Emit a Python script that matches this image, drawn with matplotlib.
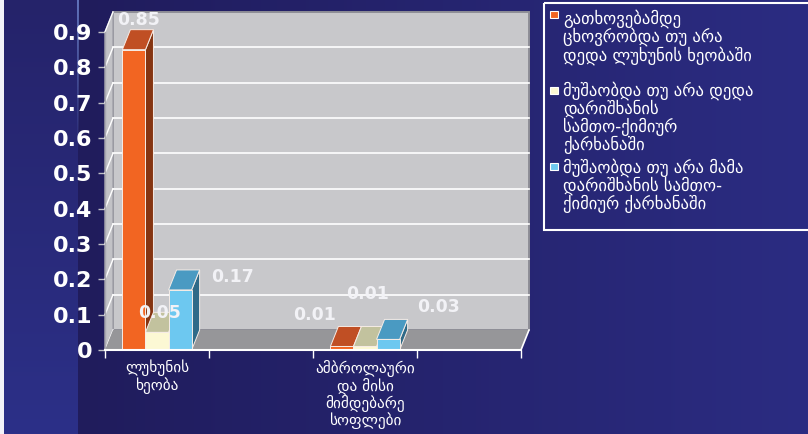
import numpy as np
import matplotlib.pyplot as plt
from matplotlib.patches import Polygon, Rectangle
from matplotlib.colors import to_rgb

# data
categories = ["ლუხუნის\nხეობა", "ამბროლაური\nდა მისი\nმიმდებარე\nსოფლები"]
series_names = [
    "გათხოვებამდე\nცხოვრობდა თუ არა\nდედა ლუხუნის ხეობაში",
    "მუშაობდა თუ არა დედა\nდარიშხანის\nსამთო-ქიმიურ\nქარხანაში",
    "მუშაობდა თუ არა მამა\nდარიშხანის სამთო-\nქიმიურ ქარხანაში",
]
values = [
    [0.85, 0.01],
    [0.05, 0.01],
    [0.17, 0.03],
]
yticks = [0, 0.1, 0.2, 0.3, 0.4, 0.5, 0.6, 0.7, 0.8, 0.9]
ytick_labels = ["0", "0.1", "0.2", "0.3", "0.4", "0.5", "0.6", "0.7", "0.8", "0.9"]

# front / top / side shades for each series
face_cols = ["#f26522", "#fcf8d4", "#6dc8f0"]
top_cols = ["#c04f24", "#c2c29e", "#4a9ac2"]
side_cols = ["#853512", "#9a9a7a", "#2f6a88"]

# where each value label sits relative to its bar top (pixels)
label_offsets = [
    [(5, 30), (-27, 31)],
    [(3, 19), (3, 52)],
    [(52, 13), (50, 32)],
]

W, H = 808, 434
fig = plt.figure(figsize=(W / 100, H / 100), dpi=100)

# background: dark navy with a lighter strip on the left
bg = np.zeros((H, W, 3))
yy = np.linspace(0, 1, H)[:, None]
lt, lb = np.array(to_rgb("#25236a")), np.array(to_rgb("#2c3088"))
bg[:, :78] = (lt + (lb - lt) * yy)[:, None, :]
xx = np.linspace(0, 1, W - 78)[None, :, None]
cm, cr = np.array(to_rgb("#201c5c")), np.array(to_rgb("#2b2c82"))
bg[:, 78:] = cm + (cr - cm) * xx
glow = np.clip(1 - np.arange(H) / 150.0, 0, 1)[:, None, None]
bg[:, 77:79] = bg[:, 77:79] * (1 - glow * 0.7) + np.array(to_rgb("#7a96e0")) * glow * 0.7
bg[:, :4] = to_rgb("#f2f2f8")
bax = fig.add_axes([0, 0, 1, 1], zorder=-10)
bax.imshow(bg, aspect="auto", interpolation="bilinear")
bax.axis("off")

ax = fig.add_axes([105 / W, 84 / H, 416 / W, 318 / H])
ax.set_xlim(0, 4)
ax.set_ylim(0, 0.9)
ax.patch.set_visible(False)
for s in ax.spines.values():
    s.set_visible(False)

dx = 8 / 104
dy = 20 / (318 / 0.9)
top = yticks[-1]

# walls and floor
ax.add_patch(Polygon([(dx, dy), (4 + dx, dy), (4 + dx, top + dy), (dx, top + dy)],
                     fc="#c8c8cb", ec="#8e8e96", lw=1.4, clip_on=False, zorder=1))
for v in yticks[1:-1]:
    ax.plot([dx, 4 + dx], [v + dy, v + dy], color="white", lw=1.2, clip_on=False, zorder=1.5)
ax.add_patch(Polygon([(0, 0), (dx, dy), (dx, top + dy), (0, top)],
                     fc="#c2c2c6", ec="#a0a0a8", lw=1, clip_on=False, zorder=1))
for v in yticks:
    ax.plot([0, dx], [v, v + dy], color="white", lw=1, clip_on=False, zorder=1.6)
ax.add_patch(Polygon([(0, 0), (4, 0), (4 + dx, dy), (dx, dy)],
                     fc="#969699", ec="none", clip_on=False, zorder=2))
ax.plot([4, 4 + dx], [0, dy], color="white", lw=1.2, clip_on=False, zorder=2.5)
ax.plot([0, 0], [0, top], color="#a8a8b0", lw=1, clip_on=False, zorder=2.5)
ax.plot([0, 4], [0, 0], color="white", lw=1.5, clip_on=False, zorder=30)

# 3d bars
bw = 0.222
centers = [0.5 + 2 * g for g in range(len(categories))]
z = 3
edge = "#f6ece6"
for g, c in enumerate(centers):
    for i in range(len(values)):
        v = values[i][g]
        x0 = c + (i - 1.5) * bw
        x1 = x0 + bw
        ax.add_patch(Polygon([(x1, 0), (x1 + dx, dy), (x1 + dx, v + dy), (x1, v)],
                             fc=side_cols[i], ec=edge, lw=0.7, clip_on=False, zorder=z))
        ax.add_patch(Polygon([(x0, v), (x1, v), (x1 + dx, v + dy), (x0 + dx, v + dy)],
                             fc=top_cols[i], ec=edge, lw=0.7, clip_on=False, zorder=z + 0.1))
        ax.bar(x0, v, bw, align="edge", color=face_cols[i], ec=edge, lw=0.7,
               clip_on=False, zorder=z + 0.2)
        z += 1

for g, c in enumerate(centers):
    for i in range(len(values)):
        v = values[i][g]
        xc = c + (i - 1) * bw
        ax.annotate(f"{v:.2f}", xy=(xc, v), xytext=label_offsets[i][g],
                    textcoords="offset pixels", ha="center", va="center",
                    fontsize=12.5, fontweight="bold", color="#f2f2f6",
                    family="DejaVu Sans", zorder=40, annotation_clip=False)

# axes ticks
ax.set_yticks(yticks, ytick_labels)
ax.tick_params(axis="y", length=5, width=1, color="#c0c0c8", pad=4,
               labelcolor="white", labelsize=16)
for t in ax.get_yticklabels():
    t.set_fontweight("bold")
ax.set_xticks(range(5), [""] * 5)
ax.tick_params(axis="x", which="major", length=6, width=1, color="white")
ax.set_xticks(centers, categories, minor=True)
ax.tick_params(axis="x", which="minor", length=0, pad=7, labelsize=11,
               labelcolor="white")
for t in ax.get_xticklabels(minor=True):
    t.set_linespacing(1.05)

# legend
lg = fig.add_axes([0, 0, 1, 1], zorder=50)
lg.set_xlim(0, W)
lg.set_ylim(H, 0)
lg.axis("off")
lg.add_patch(Rectangle((544, 3), 280, 227, fc="none", ec="white", lw=1.5))
entry_tops = [9, 81, 158]
marker_tops = [11, 87, 163]
for i, name in enumerate(series_names):
    lg.add_patch(Rectangle((550, marker_tops[i]), 8, 7, fc=face_cols[i], ec="white", lw=0.8))
    lg.text(563, entry_tops[i], name, color="white", fontsize=12, va="top",
            ha="left", linespacing=1.0)

fig.savefig("out.png", dpi=100)
